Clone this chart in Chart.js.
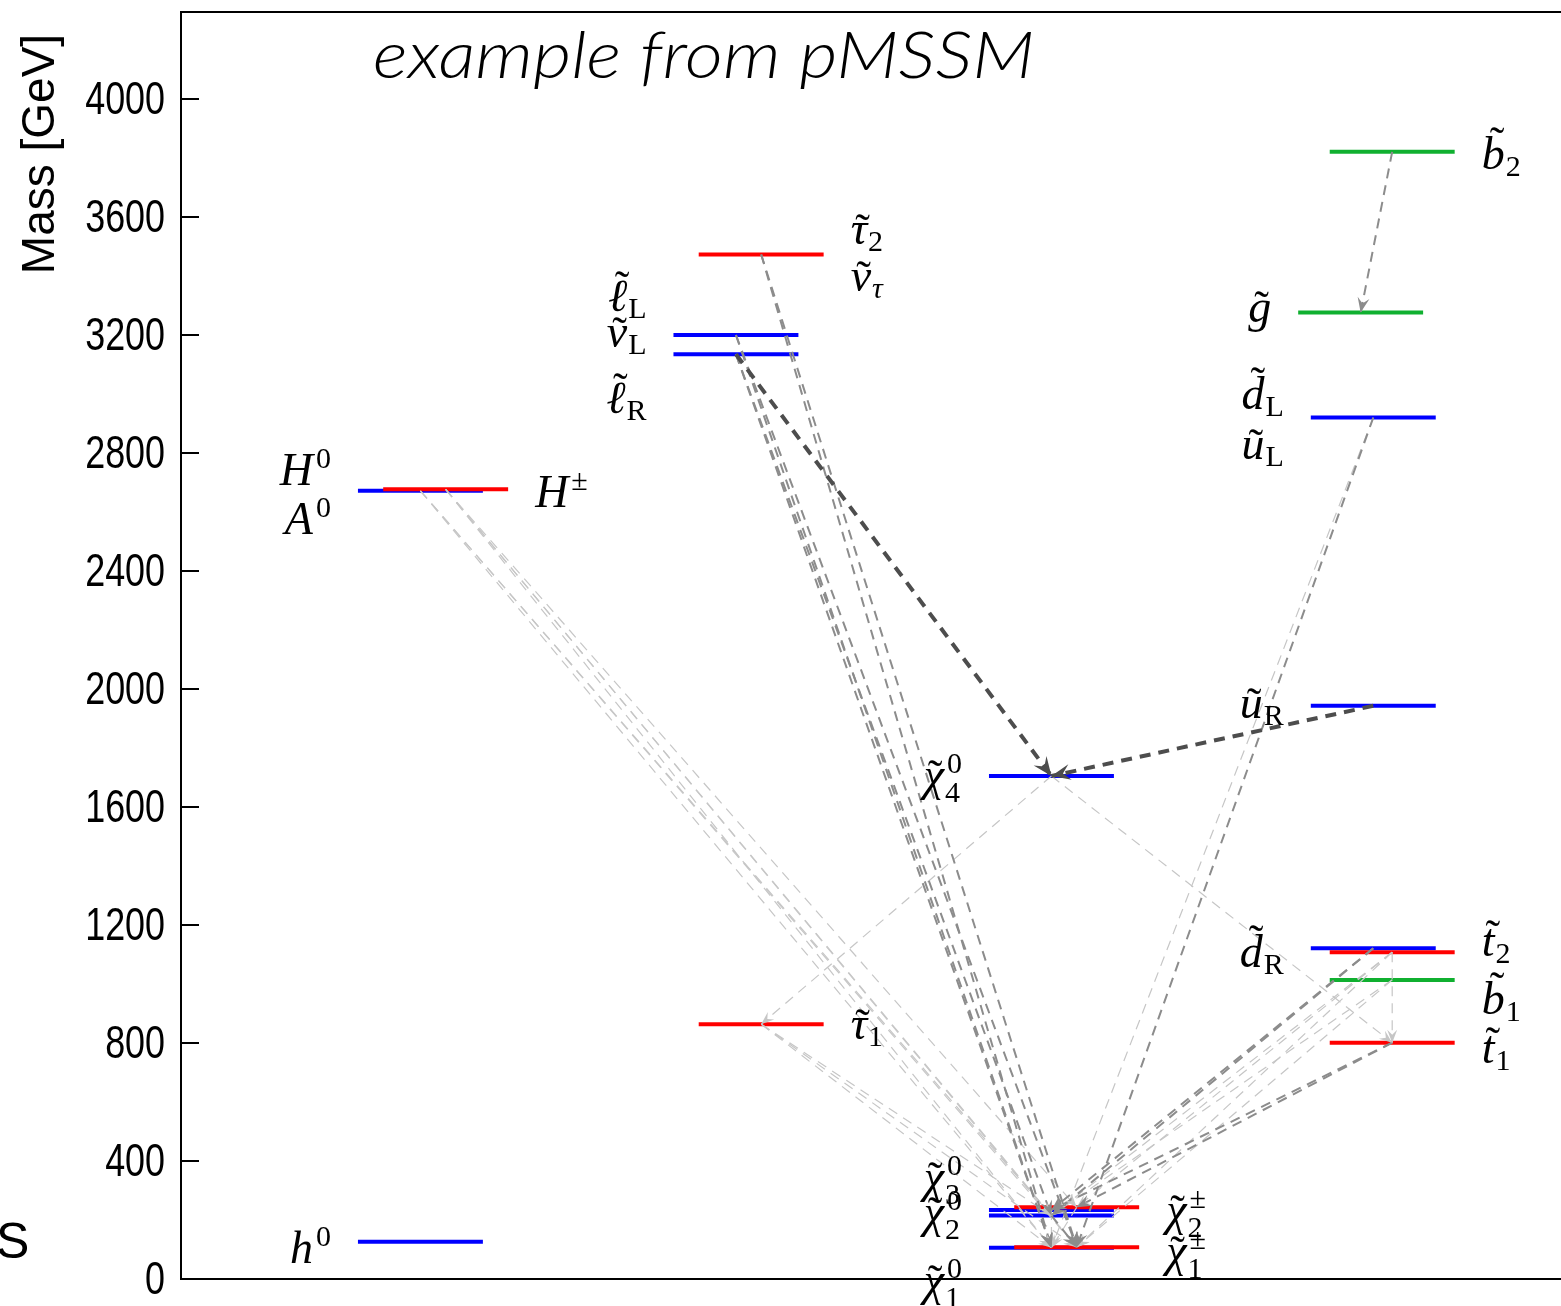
<!DOCTYPE html>
<html>
<head>
<meta charset="utf-8">
<title>pMSSM mass spectrum</title>
<script src="https://cdn.jsdelivr.net/npm/chart.js@4.4.1/dist/chart.umd.min.js"></script>
<style>
html,body{margin:0;padding:0;background:#ffffff;overflow:hidden;}
#wrap{position:relative;width:1561px;height:1306px;}
</style>
</head>
<body>
<div id="wrap"><canvas id="spectrum" width="1561" height="1306"></canvas></div>
<script>
// ---- spectrum data -------------------------------------------------------
// mass levels (GeV); columns: 0 Higgs, 1 sleptons, 2 electroweakinos, 3 squarks/gluino
const levelNames   = ['h0','H0','Hpm','stau2','slepL','slepR','stau1','N4','N3','N2','N1','C2','C1','sb2','gluino','suL','suR','sdR','st2','sb1','st1'];
const levelMasses  = [126, 2672, 2677, 3473, 3200, 3135, 864, 1705, 234, 215, 106, 243, 108, 3821, 3276, 2920, 1943, 1121, 1108, 1014, 801];
const levelColumns = [0, 0, 0, 1, 1, 1, 1, 2, 2, 2, 2, 2, 2, 3, 3, 3, 3, 3, 3, 3, 3];
const levelKinds   = ['higgs0','higgs0','higgsC','stau','slepton','slepton','stau',
                      'neutralino','neutralino','neutralino','neutralino','chargino','chargino',
                      'sbottom','gluino','squark','squark','squark','stop','sbottom','stop'];

// decays: parent -> daughter with branching ratio
const decayParents   = ['H0','H0','H0','Hpm','Hpm','Hpm','Hpm','stau2','stau2','slepL','slepL','slepR','slepR','slepR',
                        'stau1','stau1','stau1','N4','N4','sb2','suL','suL','suR','sdR','sdR',
                        'st2','st2','st2','st2','sb1','sb1','st1','st1','N2','C2','N3'];
const decayDaughters = ['N1','N2','C1','C1','N1','N2','C2','N1','C1','N1','C1','N4','N1','N2',
                        'N1','N2','C1','stau1','st1','gluino','C1','N1','N4','N2','N3',
                        'st1','C1','N2','C2','C1','N2','C2','N3','C1','N1','N1'];
const decayBR        = [0.04,0.03,0.05,0.04,0.03,0.03,0.05,0.30,0.25,0.30,0.30,0.60,0.20,0.15,
                        0.05,0.04,0.06,0.05,0.05,0.30,0.35,0.08,0.70,0.30,0.20,
                        0.06,0.05,0.05,0.04,0.06,0.05,0.30,0.25,0.30,0.05,0.05];

// particle labels and the level each one belongs to
const labelTexts   = ['h^0','H^0','A^0','H^±','~τ_2','~ν_τ','~ℓ_L','~ν_L','~ℓ_R','~τ_1',
                      '~χ_4^0','~χ_3^0','~χ_2^0','~χ_1^0','~χ_2^±','~χ_1^±',
                      '~b_2','~g','~d_L','~u_L','~u_R','~d_R','~t_2','~b_1','~t_1'];
const labelAnchors = ['h0','H0','H0','Hpm','stau2','stau2','slepL','slepL','slepR','stau1',
                      'N4','N3','N2','N1','C2','C1',
                      'sb2','gluino','suL','suL','suR','sdR','st2','sb1','st1'];

const massTicks  = [0, 400, 800, 1200, 1600, 2000, 2400, 2800, 3200, 3600, 4000];
const massMax    = 4295;
const axisTitle  = 'Mass [GeV]';
const chartTitle = 'example from pMSSM';

// ---- styling / layout ----------------------------------------------------
const KIND_STYLE = {
  higgs0:     {color:'#0000ff', shift:-0.04},
  higgsC:     {color:'#ff0000', shift: 0.04},
  slepton:    {color:'#0000ff', shift:-0.04},
  stau:       {color:'#ff0000', shift: 0.04},
  neutralino: {color:'#0000ff', shift:-0.04},
  chargino:   {color:'#ff0000', shift: 0.04},
  gluino:     {color:'#10b030', shift:-0.06},
  squark:     {color:'#0000ff', shift:-0.02},
  sbottom:    {color:'#10b030', shift: 0.04},
  stop:       {color:'#ff0000', shift: 0.04}
};
const LEVEL_HALF = 0.198;          // half length of a level bar (column units)
const X_RANGE = [-0.802, 3.575];

const DECAY_STYLE = [
  {min:0.5,  color:'#4d4d4d', width:4,   dash:[11,8], head:[19,8]},
  {min:0.15, color:'#8c8c8c', width:2,   dash:[10,7], head:[15,6]},
  {min:0,    color:'#c6c6c6', width:1.2, dash:[10,7], head:[13,5]}
];
const decayStyle = br => DECAY_STYLE.find(s => br >= s.min);

// label side and vertical nudge (px) relative to its level
const LABEL_LAYOUT = {
  'h^0':['left',3], 'H^0':['left',-24], 'A^0':['left',25], 'H^±':['right',1],
  '~τ_2':['right',-22], '~ν_τ':['right',25], '~ℓ_L':['left',-41], '~ν_L':['left',0], '~ℓ_R':['left',42],
  '~τ_1':['right',3], '~χ_4^0':['left',2], '~χ_3^0':['left',-30], '~χ_2^0':['left',-1], '~χ_1^0':['left',35],
  '~χ_2^±':['right',7], '~χ_1^±':['right',8], '~b_2':['right',0], '~g':['left',-1],
  '~d_L':['left',-26], '~u_L':['left',30], '~u_R':['left',1], '~d_R':['left',1],
  '~t_2':['right',-11], '~b_1':['right',17], '~t_1':['right',6]
};
const LABEL_GAP = 27;

const MATH_FONT = {
  base:   'italic 46px "Liberation Serif", "DejaVu Serif", serif',
  script: '30px "Liberation Serif", "DejaVu Serif", serif',
  scriptItalic: 'italic 30px "Liberation Serif", "DejaVu Serif", serif',
  tilde:  '44px "Liberation Serif", "DejaVu Serif", serif'
};
const TICK_FONT = '46px "Liberation Sans", Arial, sans-serif';
const TICK_SQUEEZE = 0.78;   // condensed look for the mass numbers

// ---- helpers -------------------------------------------------------------
const levelIndex = name => levelNames.indexOf(name);
const levelCentre = i => levelColumns[i] + KIND_STYLE[levelKinds[i]].shift;

function parseLabel(s) {
  const out = {tilde:false, base:'', sub:'', sup:''};
  const chars = Array.from(s);
  let i = 0;
  if (chars[0] === '~') { out.tilde = true; i = 1; }
  out.base = chars[i++];
  let cur = null;
  for (; i < chars.length; i++) {
    const c = chars[i];
    if (c === '_') { cur = 'sub'; continue; }
    if (c === '^') { cur = 'sup'; continue; }
    if (cur) out[cur] += c;
  }
  return out;
}

function drawMath(ctx, s, x, yc, side) {
  const p = parseLabel(s);
  ctx.save();
  ctx.textAlign = 'left';
  ctx.textBaseline = 'alphabetic';
  ctx.fillStyle = '#000';
  ctx.font = MATH_FONT.base;
  const mb = ctx.measureText(p.base);
  const pieces = [{t:p.base, f:MATH_FONT.base, dx:0, dy:0}];
  let top = -mb.actualBoundingBoxAscent, bot = mb.actualBoundingBoxDescent;
  if (p.tilde) {
    ctx.font = MATH_FONT.tilde;
    const mt = ctx.measureText('˜');
    const dy = -(mb.actualBoundingBoxAscent + 3) - mt.actualBoundingBoxDescent;
    const bc = (mb.actualBoundingBoxRight - mb.actualBoundingBoxLeft) / 2;
    const tc = (mt.actualBoundingBoxRight - mt.actualBoundingBoxLeft) / 2;
    pieces.push({t:'˜', f:MATH_FONT.tilde, dx: bc + 0.12 * mb.actualBoundingBoxAscent - tc, dy});
    top = Math.min(top, dy - mt.actualBoundingBoxAscent);
  }
  const sx = mb.width + 1;
  let w = mb.width;
  const greek = /[α-ω]/;
  if (p.sub) {
    const f = greek.test(p.sub) ? MATH_FONT.scriptItalic : MATH_FONT.script;
    ctx.font = f;
    const m = ctx.measureText(p.sub);
    const dy = p.sup ? 12 : 7;
    pieces.push({t:p.sub, f, dx:sx, dy});
    bot = Math.max(bot, dy + m.actualBoundingBoxDescent);
    top = Math.min(top, dy - m.actualBoundingBoxAscent);
    w = Math.max(w, sx + m.width);
  }
  if (p.sup) {
    ctx.font = MATH_FONT.script;
    const m = ctx.measureText(p.sup);
    const dy = -17;
    pieces.push({t:p.sup, f:MATH_FONT.script, dx:sx + 2, dy});
    top = Math.min(top, dy - m.actualBoundingBoxAscent);
    w = Math.max(w, sx + 2 + m.width);
  }
  const x0 = side === 'left' ? x - w : x;
  const base = yc - (top + bot) / 2;
  for (const pc of pieces) {
    ctx.font = pc.f;
    ctx.fillText(pc.t, x0 + pc.dx, base + pc.dy);
  }
  ctx.restore();
}

function arrowHead(ctx, x0, y0, x1, y1, len, half, color) {
  const a = Math.atan2(y1 - y0, x1 - x0);
  ctx.save();
  ctx.translate(x1, y1);
  ctx.rotate(a);
  ctx.beginPath();
  ctx.moveTo(0, 0);
  ctx.lineTo(-len, -half);
  ctx.lineTo(-len * 0.62, 0);
  ctx.lineTo(-len, half);
  ctx.closePath();
  ctx.fillStyle = color;
  ctx.fill();
  ctx.restore();
}

// ---- datasets ------------------------------------------------------------
const datasets = [];
levelNames.forEach((name, i) => {
  const c = levelCentre(i);
  datasets.push({
    role:'level', name,
    data:[{x:c - LEVEL_HALF, y:levelMasses[i]}, {x:c + LEVEL_HALF, y:levelMasses[i]}],
    borderColor:KIND_STYLE[levelKinds[i]].color, borderWidth:4, borderCapStyle:'butt',
    showLine:true, pointRadius:0, fill:false
  });
});
// weaker decays first so the strong ones end up on top
const decayOrder = decayParents.map((_, k) => k).sort((a, b) => decayBR[a] - decayBR[b]);
decayOrder.forEach(k => {
  const pi = levelIndex(decayParents[k]), di = levelIndex(decayDaughters[k]);
  const st = decayStyle(decayBR[k]);
  datasets.push({
    role:'decay', br:decayBR[k],
    data:[{x:levelCentre(pi), y:levelMasses[pi]}, {x:levelCentre(di), y:levelMasses[di]}],
    borderColor:st.color, borderWidth:st.width, borderDash:st.dash,
    showLine:true, pointRadius:0, fill:false
  });
});
// dataset drawn first gets the highest order
datasets.forEach((d, i) => { d.order = datasets.length - i; });

// ---- plugins -------------------------------------------------------------
const spectrumPlugin = {
  id:'spectrum',
  afterDatasetsDraw(chart) {
    const ctx = chart.ctx;
    chart.data.datasets.forEach((d, i) => {
      if (d.role !== 'decay') return;
      const pts = chart.getDatasetMeta(i).data;
      const st = decayStyle(d.br);
      arrowHead(ctx, pts[0].x, pts[0].y, pts[1].x, pts[1].y, st.head[0], st.head[1], st.color);
    });
  },
  afterDraw(chart) {
    const ctx = chart.ctx;
    const a = chart.chartArea;
    const ys = chart.scales.y;
    ctx.save();
    // frame: left, bottom and top spines
    ctx.strokeStyle = '#000';
    ctx.lineWidth = 2;
    ctx.beginPath();
    ctx.moveTo(a.left + 1, a.top);
    ctx.lineTo(a.left + 1, a.bottom);
    ctx.moveTo(a.left, a.bottom);
    ctx.lineTo(a.right, a.bottom);
    ctx.moveTo(a.left, a.top);
    ctx.lineTo(a.right, a.top);
    ctx.stroke();
    // inward tick marks and their numbers
    ctx.beginPath();
    massTicks.forEach(v => {
      const y = ys.getPixelForValue(v);
      ctx.moveTo(a.left, y);
      ctx.lineTo(a.left + 19, y);
    });
    ctx.stroke();
    ctx.fillStyle = '#000';
    ctx.font = TICK_FONT;
    ctx.textAlign = 'right';
    ctx.textBaseline = 'middle';
    massTicks.forEach(v => {
      ctx.save();
      ctx.translate(a.left - 15, ys.getPixelForValue(v) + 2);
      ctx.scale(TICK_SQUEEZE, 1);
      ctx.fillText(String(v), 0, 0);
      ctx.restore();
    });

    // particle labels
    labelTexts.forEach((txt, k) => {
      const li = levelIndex(labelAnchors[k]);
      const pts = chart.getDatasetMeta(li).data;
      const [side, dy] = LABEL_LAYOUT[txt];
      const x = side === 'left' ? pts[0].x - LABEL_GAP : pts[1].x + LABEL_GAP;
      drawMath(ctx, txt, x, pts[0].y + dy, side);
    });

    // title inside the frame
    ctx.save();
    ctx.fillStyle = '#000';
    ctx.textAlign = 'left';
    ctx.textBaseline = 'alphabetic';
    ctx.font = 'italic 300 66px Lato, "Liberation Sans", sans-serif';
    ctx.translate(a.left + 193, a.top + 66);
    ctx.scale(1.12, 1);
    ctx.fillText(chartTitle, 0, 0);
    ctx.restore();

    // vertical axis title, anchored near the top
    ctx.save();
    ctx.translate(54, 154);
    ctx.rotate(-Math.PI / 2);
    ctx.textAlign = 'center';
    ctx.textBaseline = 'alphabetic';
    ctx.font = '46px "Liberation Sans", Arial, sans-serif';
    ctx.fillText(axisTitle, 0, 0);
    ctx.restore();

    // clipped letter at the lower left edge
    ctx.textAlign = 'left';
    ctx.textBaseline = 'alphabetic';
    ctx.font = '50px "Liberation Sans", Arial, sans-serif';
    ctx.fillText('S', -4, 1258);
    ctx.restore();
  }
};

// ---- chart ---------------------------------------------------------------
new Chart(document.getElementById('spectrum'), {
  type:'scatter',
  data:{datasets},
  options:{
    responsive:false,
    devicePixelRatio:1,
    animation:false,
    events:[],
    layout:{autoPadding:false, padding:{top:12, bottom:27, left:0, right:0}},
    plugins:{legend:{display:false}, tooltip:{enabled:false}, title:{display:false}},
    scales:{
      x:{type:'linear', min:X_RANGE[0], max:X_RANGE[1], display:false},
      y:{
        type:'linear', min:0, max:massMax,
        afterFit:s => { s.width = 180; s.paddingTop = 0; s.paddingBottom = 0; },
        afterBuildTicks:s => { s.ticks = massTicks.map(v => ({value:v})); },
        ticks:{display:false},
        grid:{display:false, drawTicks:false},
        border:{display:false}
      }
    }
  },
  plugins:[spectrumPlugin]
});
</script>
</body>
</html>
